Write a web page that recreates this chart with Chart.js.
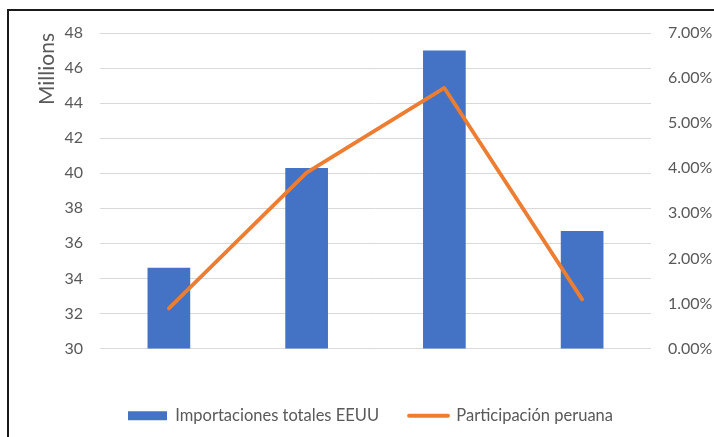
<!DOCTYPE html>
<html>
<head>
<meta charset="utf-8">
<script src="https://cdn.jsdelivr.net/npm/chart.js@4/dist/chart.umd.min.js"></script>
<style>
  html, body { margin: 0; padding: 0; background: #fff; }
  #wrap { position: relative; width: 714px; height: 437px; overflow: hidden; }
  #frame { position: absolute; left: 7px; top: 9px; width: 760px; height: 480px; border: 2px solid #1a1a1a; box-sizing: border-box; pointer-events: none; }
</style>
</head>
<body>
<div id="wrap">
  <canvas id="c" width="714" height="437"></canvas>
  <div id="frame"></div>
</div>
<script>
const years = ['2017', '2018', '2019', '2020'];
const importaciones = [34.6, 40.3, 47.0, 36.7];      // millions
const participacion = [0.89, 3.90, 5.78, 1.09];     // percent
const leftTicks = { min: 30, max: 48, step: 2 };
const rightTicks = { min: 0, max: 7, step: 1 };
const seriesNames = ['Importaciones totales EEUU', 'Participación peruana'];

const FONT = 'Lato';
const GREY = '#595959';

const shiftLegend = {
  id: 'shiftLegend',
  afterLayout(chart) {
    const lg = chart.legend;
    if (lg) { lg.left -= 5; lg.right -= 5; }
  }
};

new Chart(document.getElementById('c'), {
  type: 'bar',
  data: {
    labels: years,
    datasets: [
      {
        type: 'bar',
        label: seriesNames[0],
        data: importaciones,
        backgroundColor: '#4472C4',
        borderWidth: 0,
        yAxisID: 'y',
        order: 1,
        barPercentage: 0.31,
        categoryPercentage: 1.0
      },
      {
        type: 'line',
        label: seriesNames[1],
        data: participacion,
        borderColor: '#ED7D31',
        backgroundColor: '#ED7D31',
        borderWidth: 3.8,
        borderCapStyle: 'round',
        borderJoinStyle: 'round',
        pointRadius: 0,
        pointHoverRadius: 0,
        pointStyle: 'line',
        tension: 0,
        yAxisID: 'y1',
        order: 0
      }
    ]
  },
  plugins: [shiftLegend],
  options: {
    responsive: false,
    animation: false,
    devicePixelRatio: 1,
    layout: { padding: { left: 35, right: 0, top: 33, bottom: 3 } },
    plugins: {
      tooltip: { enabled: false },
      legend: {
        position: 'bottom',
        fullSize: false,
        labels: {
          font: { family: FONT, size: 16.5 },
          color: GREY,
          usePointStyle: true,
          pointStyleWidth: 39,
          boxHeight: 9,
          padding: 30,
          sort: (a, b) => a.datasetIndex - b.datasetIndex,
          generateLabels(chart) {
            const items = Chart.defaults.plugins.legend.labels.generateLabels(chart);
            items.forEach(it => {
              if (it.datasetIndex === 0) { it.pointStyle = 'rect'; it.lineWidth = 0; }
              else { it.pointStyle = 'line'; it.lineWidth = 3.8; it.lineCap = 'round'; }
            });
            return items;
          }
        }
      }
    },
    scales: {
      x: {
        offset: true,
        grid: { display: false },
        border: { display: false },
        ticks: { font: { family: FONT, size: 16 }, color: GREY, padding: 20 },
        afterFit(s) { s.height = 29; }
      },
      y: {
        position: 'left',
        min: leftTicks.min,
        max: leftTicks.max,
        grid: { color: '#d9d9d9', lineWidth: 1, drawTicks: false },
        border: { display: false },
        ticks: { stepSize: leftTicks.step, font: { family: FONT, size: 16 }, color: GREY, padding: 17 },
        title: {
          display: true,
          text: 'Millions',
          align: 'end',
          color: GREY,
          font: { family: FONT, size: 21 },
          padding: { top: 0, bottom: 0 }
        },
        afterFit(s) { s.width = 65; }
      },
      y1: {
        position: 'right',
        min: rightTicks.min,
        max: rightTicks.max,
        grid: { drawOnChartArea: false, drawTicks: false },
        border: { display: false },
        ticks: {
          stepSize: rightTicks.step,
          font: { family: FONT, size: 16 },
          color: GREY,
          padding: 17,
          callback: v => Number(v).toFixed(2) + '%'
        },
        afterFit(s) { s.width = 63; }
      }
    }
  }
});
</script>
</body>
</html>
